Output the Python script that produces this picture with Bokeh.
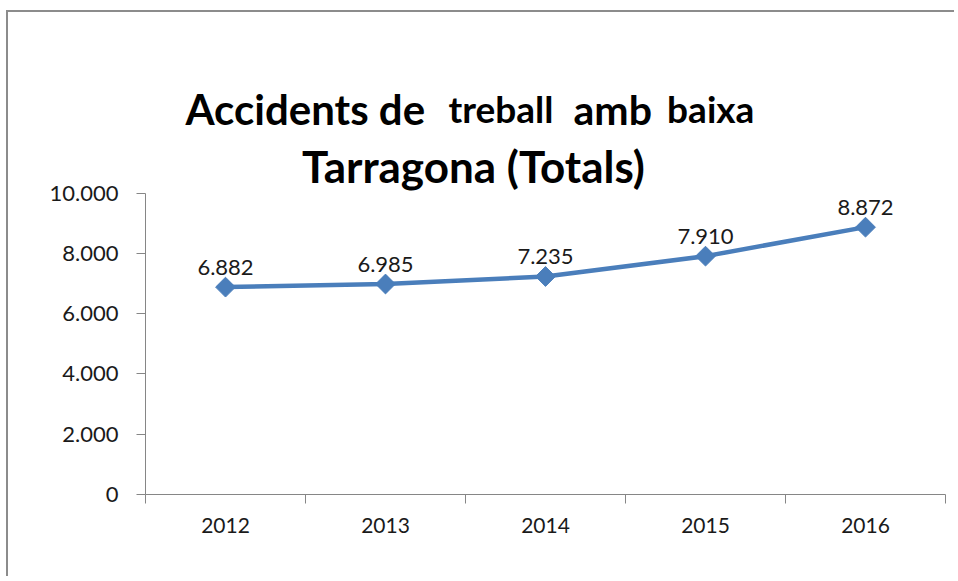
import numpy as np
from bokeh.plotting import figure
from bokeh.models import ColumnDataSource, Range1d, FixedTicker, Label
from bokeh.core.properties import value
from bokeh.embed import file_html
from bokeh.resources import INLINE

# ---- data ----
years = ["2012", "2013", "2014", "2015", "2016"]
accidents = [6882, 6985, 7235, 7910, 8872]
y_ticks = [0, 2000, 4000, 6000, 8000, 10000]
y_tick_labels = ["0", "2.000", "4.000", "6.000", "8.000", "10.000"]
title_line1 = [("Accidents de", 42), ("treball", 37), ("amb", 41), ("baixa", 37)]
title_line2 = "Tarragona (Totals)"

FONT = "Lato"
BLUE = "#4a7ebb"
AXIS = "#868686"
Y_AXIS_MAX = 10000
Y_VIEW_MAX = 15000  # extra room above the axis for the title

xs = [i + 0.5 for i in range(len(years))]
labels = [f"{v:,}".replace(",", ".") for v in accidents]
src = ColumnDataSource(dict(x=xs, y=accidents, lab=labels))

p = figure(width=948, height=566, output_backend="svg", toolbar_location=None,
           x_range=Range1d(0, len(years)), y_range=Range1d(0, Y_VIEW_MAX),
           min_border_left=137, min_border_right=11, min_border_top=30,
           min_border_bottom=84)
p.styles = {"border-top": "2px solid #8c8c8c", "border-left": "2px solid #8c8c8c",
            "margin-left": "6px", "margin-top": "10px"}
p.outline_line_color = None
p.xgrid.visible = False
p.ygrid.visible = False
p.background_fill_color = "white"
p.border_fill_color = "white"

# x axis: labels at centres, tick marks at category boundaries
p.xaxis.ticker = FixedTicker(ticks=xs, minor_ticks=list(range(len(years) + 1)))
p.xaxis.major_label_overrides = {x: y for x, y in zip(xs, years)}
p.xaxis.major_tick_line_color = None
p.xaxis.minor_tick_line_color = AXIS
p.xaxis.minor_tick_in = 0
p.xaxis.minor_tick_out = 9
p.xaxis.axis_line_color = AXIS
p.xaxis.major_label_text_font = FONT
p.xaxis.major_label_text_font_size = "21px"
p.xaxis.major_label_text_color = "#1a1a1a"
p.xaxis.major_label_standoff = 14

p.yaxis.ticker = FixedTicker(ticks=y_ticks)
p.yaxis.bounds = (0, Y_AXIS_MAX)
p.yaxis.major_label_overrides = {t: l for t, l in zip(y_ticks, y_tick_labels)}
p.yaxis.minor_tick_line_color = None
p.yaxis.major_tick_line_color = AXIS
p.yaxis.major_tick_in = 0
p.yaxis.major_tick_out = 9
p.yaxis.axis_line_color = AXIS
p.yaxis.major_label_text_font = FONT
p.yaxis.major_label_text_font_size = "22px"
p.yaxis.major_label_text_color = "#1a1a1a"
p.yaxis.major_label_standoff = 18

p.line("x", "y", source=src, line_color=BLUE, line_width=4.5)
p.scatter("x", "y", source=src, marker="square", angle=np.pi / 4, size=14,
          fill_color=BLUE, line_color=BLUE)
p.text("x", "y", text="lab", source=src, text_align="center",
       text_baseline="bottom", y_offset=-12, text_font=value(FONT),
       text_font_size="22px", text_color="#1a1a1a")

# title built from labels (mixed font sizes), positioned in data units
line1_x = [0.25, 1.894, 2.675, 3.26]
line1_y = [12780, 12800, 12780, 12800]
for (txt, size), lx, ly in zip(title_line1, line1_x, line1_y):
    p.add_layout(Label(x=lx, y=ly, text=txt, text_font=FONT,
                       text_font_style="bold", text_font_size=f"{size}px",
                       text_color="black", text_baseline="alphabetic",
                       text_align="left"))
p.add_layout(Label(x=2.05, y=10918, text=title_line2, text_font=FONT,
                   text_font_style="bold", text_font_size="44px",
                   text_color="black", text_baseline="alphabetic",
                   text_align="center"))

open("out.html", "w").write(file_html(p, INLINE))
